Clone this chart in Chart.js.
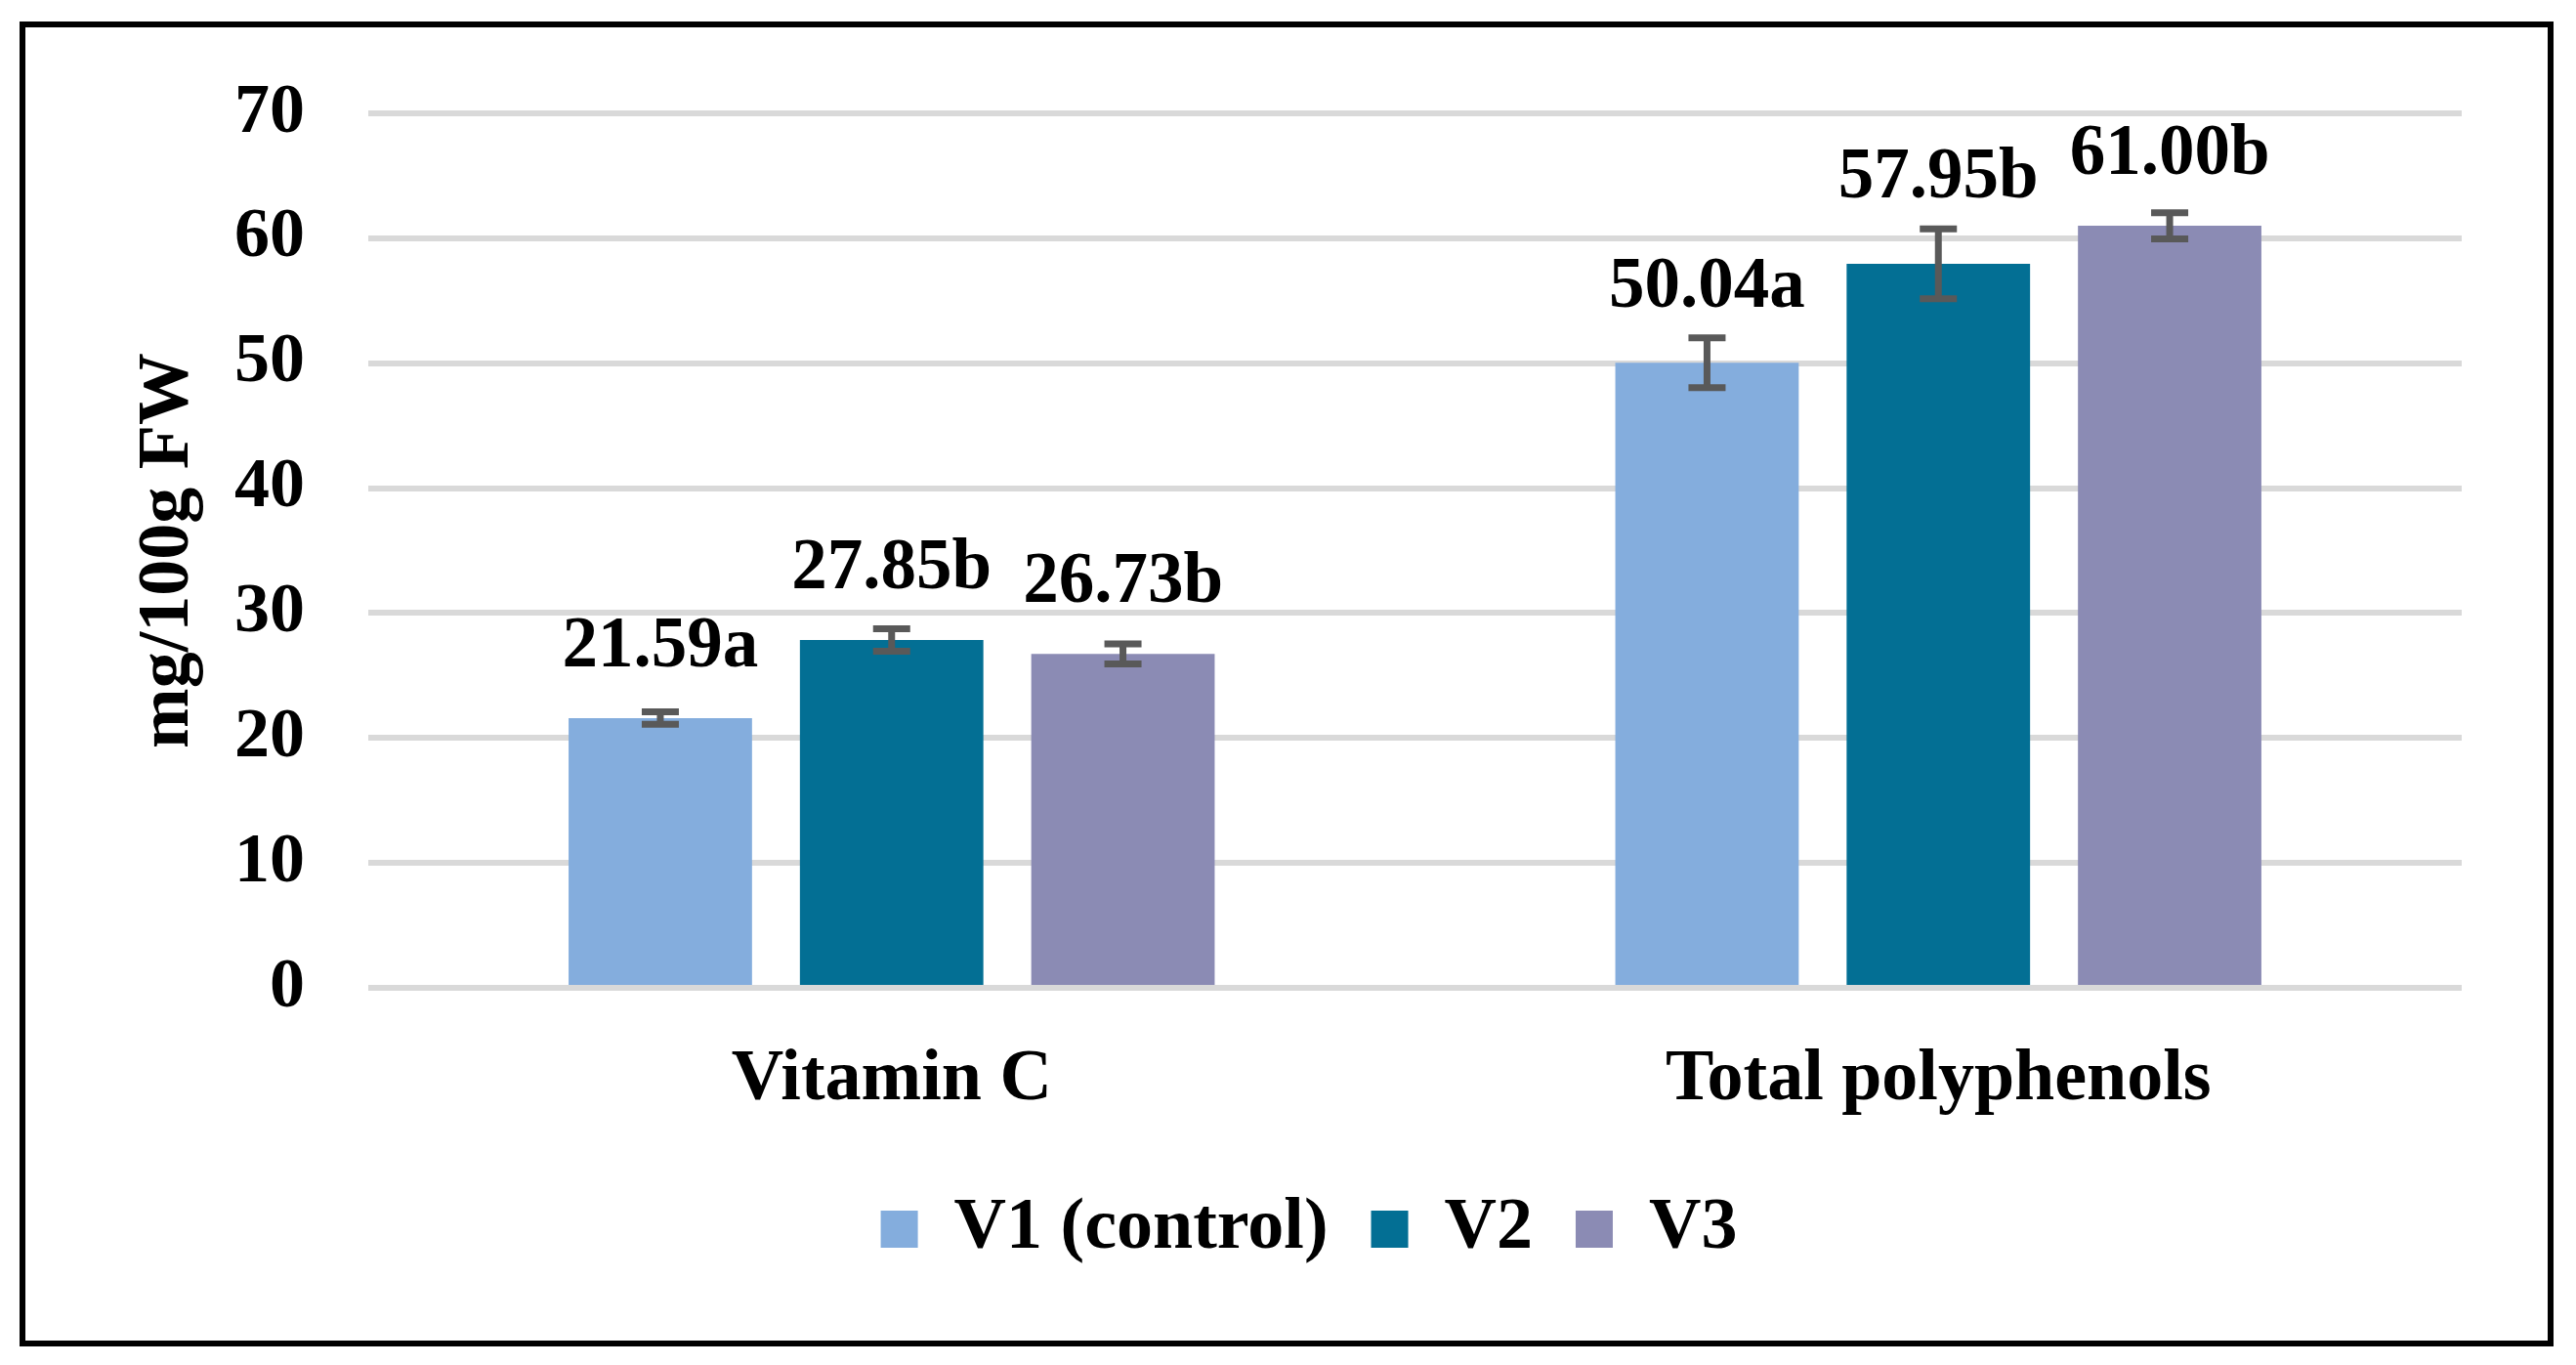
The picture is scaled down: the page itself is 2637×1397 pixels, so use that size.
<!DOCTYPE html>
<html>
<head>
<meta charset="utf-8">
<title>Vitamin C and total polyphenols</title>
<script src="https://cdn.jsdelivr.net/npm/chart.js@4.4.1/dist/chart.umd.min.js"></script>
<style>
  body { margin: 0; background: #fff; }
  #frame {
    position: absolute;
    left: 20px; top: 22px;
    width: 2594px; height: 1356px;
    border: 6px solid #000;
    box-sizing: border-box;
    background: #fff;
  }
  #box { position: relative; width: 2582px; height: 1344px; }
</style>
</head>
<body>
<div id="frame"><div id="box"><canvas id="chart"></canvas></div></div>

<script>
// ===========================
// DATA
// ===========================
const categories = ["Vitamin C", "Total polyphenols"];
const seriesNames = ["V1 (control)", "V2", "V3"];

const v1Values = [21.59, 50.04];
const v2Values = [27.85, 57.95];
const v3Values = [26.73, 61.00];

// error bars
const v1Errors = [0.5, 2.0];
const v2Errors = [0.9, 2.8];
const v3Errors = [0.8, 1.05];

// significance letters
const v1Letters = ["a", "a"];
const v2Letters = ["b", "b"];
const v3Letters = ["b", "b"];

const yTicks = [0, 10, 20, 30, 40, 50, 60, 70];

const colors = ["#84ADDD", "#036F94", "#8B8BB4"];
const FONT = "'Liberation Serif', 'Times New Roman', serif";

// ===========================
// PLUGINS: error bars + labels
// ===========================
const errorsBySeries = [v1Errors, v2Errors, v3Errors];
const lettersBySeries = [v1Letters, v2Letters, v3Letters];

const errorBars = {
  id: "errorBars",
  afterDatasetsDraw(chart) {
    const ctx = chart.ctx;
    const y = chart.scales.y;
    ctx.save();
    ctx.strokeStyle = "#595959";
    ctx.lineWidth = 7;
    chart.data.datasets.forEach((ds, d) => {
      chart.getDatasetMeta(d).data.forEach((bar, i) => {
        const v = ds.data[i];
        const e = errorsBySeries[d][i];
        const top = y.getPixelForValue(v + e);
        const bottom = y.getPixelForValue(v - e);
        ctx.beginPath();
        ctx.moveTo(bar.x, top);
        ctx.lineTo(bar.x, bottom);
        ctx.moveTo(bar.x - 19, top);
        ctx.lineTo(bar.x + 19, top);
        ctx.moveTo(bar.x - 19, bottom);
        ctx.lineTo(bar.x + 19, bottom);
        ctx.stroke();
      });
    });
    ctx.restore();
  }
};

const valueLabels = {
  id: "valueLabels",
  afterDatasetsDraw(chart) {
    const ctx = chart.ctx;
    const y = chart.scales.y;
    ctx.save();
    ctx.fillStyle = "#000";
    ctx.font = "bold 73px " + FONT;
    ctx.textAlign = "center";
    ctx.textBaseline = "alphabetic";
    chart.data.datasets.forEach((ds, d) => {
      chart.getDatasetMeta(d).data.forEach((bar, i) => {
        const v = ds.data[i];
        const errTop = y.getPixelForValue(v + errorsBySeries[d][i]);
        const ly = Math.min(bar.y - 53, errTop - 32);
        ctx.fillText(v.toFixed(2) + lettersBySeries[d][i], bar.x, ly);
      });
    });
    ctx.restore();
  }
};

// ===========================
// CHART
// ===========================
const ctx = document.getElementById("chart").getContext("2d");
new Chart(ctx, {
  type: "bar",
  data: {
    labels: categories,
    datasets: [
      { label: seriesNames[0], data: v1Values, backgroundColor: colors[0] },
      { label: seriesNames[1], data: v2Values, backgroundColor: colors[1] },
      { label: seriesNames[2], data: v3Values, backgroundColor: colors[2] }
    ]
  },
  options: {
    responsive: true,
    maintainAspectRatio: false,
    animation: false,
    devicePixelRatio: 1,
    categoryPercentage: 0.663,
    barPercentage: 0.793,
    layout: { padding: { left: 134, right: 88, top: 88, bottom: 75 } },
    plugins: {
      tooltip: { enabled: false },
      legend: {
        position: "bottom",
        maxHeight: 120,
        labels: {
          color: "#000",
          font: { family: FONT, size: 74, weight: "bold" },
          boxWidth: 38,
          boxHeight: 38,
          padding: 44
        }
      }
    },
    scales: {
      x: {
        grid: { display: false },
        border: { display: false },
        ticks: {
          color: "#000",
          font: { family: FONT, size: 74, weight: "bold" },
          padding: 42
        },
        afterFit(scale) { scale.height = 166; }
      },
      y: {
        min: 0,
        max: 70,
        afterBuildTicks(scale) { scale.ticks = yTicks.map(v => ({ value: v })); },
        // invisible tick marks keep the gap between labels and grid
        grid: { color: "#D9D9D9", lineWidth: 6, drawTicks: true, tickLength: 65, tickColor: "rgba(0,0,0,0)" },
        border: { display: false },
        ticks: {
          color: "#000",
          font: { family: FONT, size: 72, weight: "bold" },
          padding: 0
        },
        title: {
          display: true,
          text: "mg/100g FW",
          color: "#000",
          font: { family: FONT, size: 74, weight: "bold" },
          padding: { top: -32, bottom: 0 }
        },
        afterFit(scale) { scale.width = 217; }
      }
    }
  },
  plugins: [errorBars, valueLabels]
});
</script>
</body>
</html>
